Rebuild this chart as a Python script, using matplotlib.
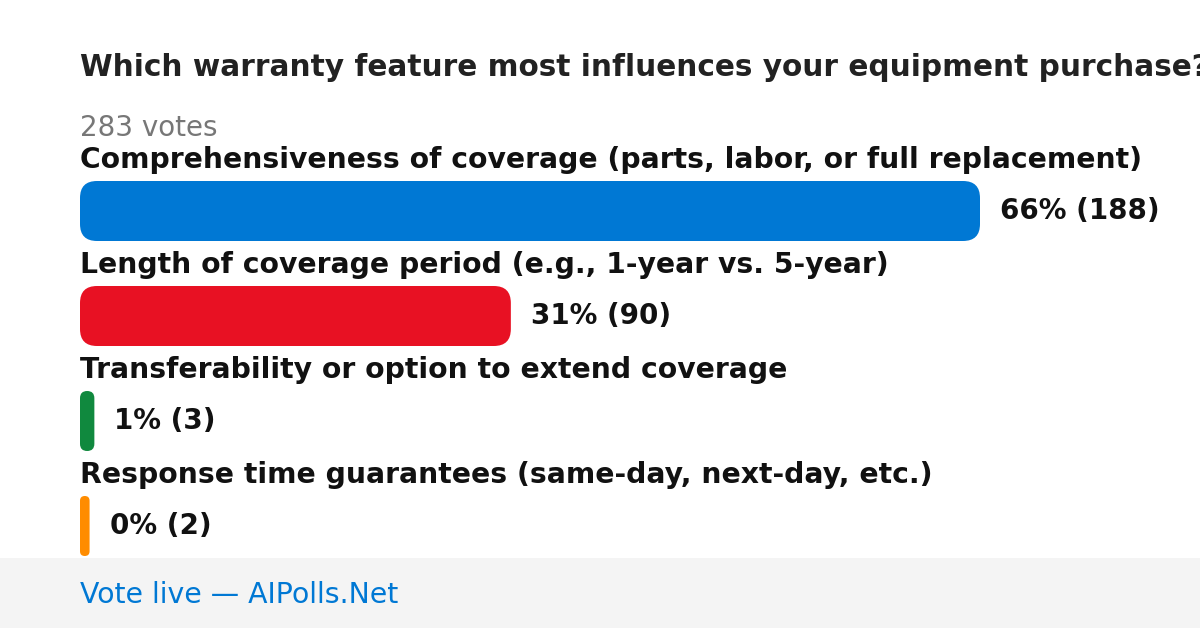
import matplotlib
matplotlib.use("Agg")
import matplotlib.pyplot as plt
from matplotlib.patches import FancyBboxPatch, Rectangle

plt.rcParams["font.family"] = ["DejaVu Sans"]

title = "Which warranty feature most influences your equipment purchase?"
total_label = "283 votes"
categories = [
    "Comprehensiveness of coverage (parts, labor, or full replacement)",
    "Length of coverage period (e.g., 1-year vs. 5-year)",
    "Transferability or option to extend coverage",
    "Response time guarantees (same-day, next-day, etc.)",
]
votes = [188, 90, 3, 2]
percents = [66, 31, 1, 0]
colors = ["#0078D4", "#E81123", "#10893E", "#FF8C00"]
footer = "Vote live \u2014 AIPolls.Net"

W, H = 1200, 628
fig = plt.figure(figsize=(W / 100, H / 100), dpi=100)
fig.patch.set_facecolor("white")

# axes: x from 80px to 980px, rows spaced 105px, first bar centered at y=211px
row_px = 105
top_px = 211 - row_px / 2
ax_h = row_px * len(categories)
ax = fig.add_axes([80 / W, 1 - (top_px + ax_h) / H, 900 / W, ax_h / H])
ax.set_xlim(0, max(votes))
ax.set_ylim(len(categories) - 0.5, -0.5)
ax.axis("off")

px_per_x = 900 / max(votes)
bar_h = 60 / row_px
R_px = 17
aspect = px_per_x / row_px

for i, (cat, v, p, c) in enumerate(zip(categories, votes, percents, colors)):
    w_px = v * px_per_x
    r_px = min(R_px, w_px / 2)
    r_x = r_px / px_per_x
    patch = FancyBboxPatch(
        (0, i - bar_h / 2), v, bar_h,
        boxstyle=f"round,pad=0,rounding_size={r_x}",
        mutation_aspect=aspect,
        facecolor=c, edgecolor="none", clip_on=False,
    )
    ax.add_patch(patch)
    ax.text(0, i - 0.49, cat, ha="left", va="center", fontsize=20.3,
            fontweight="bold", color="#111111", clip_on=False)
    ax.annotate(f"{p}% ({v})", xy=(v, i), xytext=(20, 0),
                textcoords="offset pixels", ha="left", va="center",
                fontsize=20, fontweight="bold", color="#111111",
                annotation_clip=False)

fig.text(80 / W, 1 - 68 / H, title, ha="left", va="center", fontsize=21.3,
         fontweight="bold", color="#222222")
fig.text(80 / W, 1 - 127.5 / H, total_label, ha="left", va="center",
         fontsize=20, color="#777777")

fig.patches.append(Rectangle((0, 0), 1, 70 / H, transform=fig.transFigure,
                             facecolor="#f4f4f4", edgecolor="none", zorder=5))
fig.text(80 / W, 1 - 595 / H, footer, ha="left", va="center", fontsize=20.4,
         color="#0078D4", zorder=6)

fig.savefig("out.png", dpi=100)
